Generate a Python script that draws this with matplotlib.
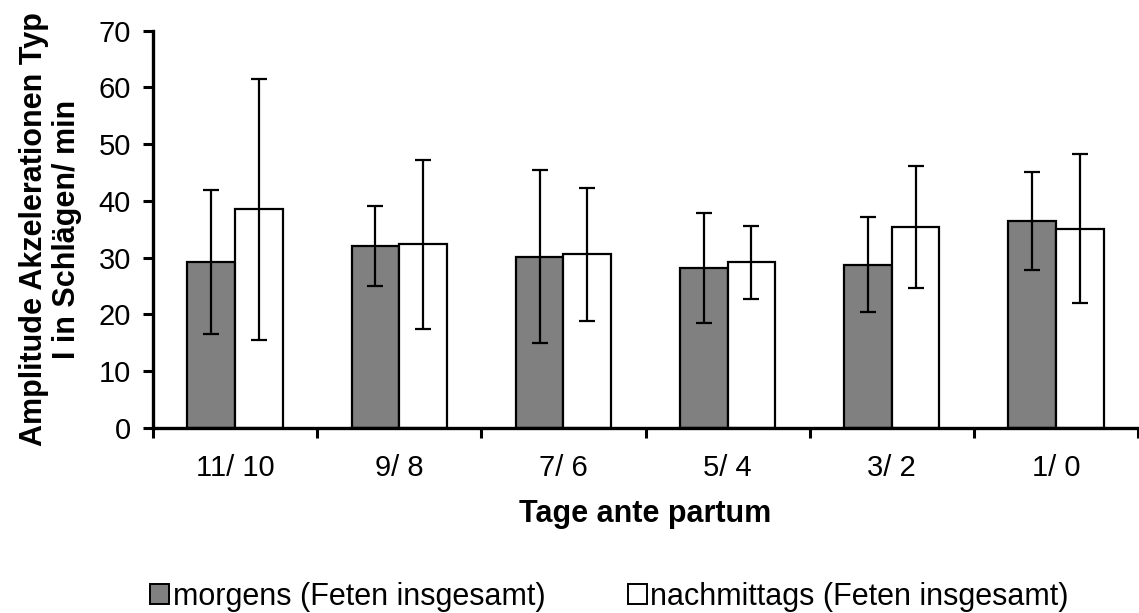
import matplotlib
matplotlib.use("Agg")
import matplotlib.pyplot as plt
import numpy as np
from matplotlib.patches import Patch

plt.rcParams["font.family"] = ["Liberation Sans", "DejaVu Sans"]

categories = ["11/ 10", "9/ 8", "7/ 6", "5/ 4", "3/ 2", "1/ 0"]
morgens_mean = [29.3, 32.1, 30.2, 28.2, 28.8, 36.5]
morgens_sd = [12.7, 7.1, 15.3, 9.7, 8.3, 8.6]
nachmittags_mean = [38.5, 32.4, 30.6, 29.2, 35.4, 35.1]
nachmittags_sd = [23.0, 14.9, 11.7, 6.4, 10.8, 13.1]
series_labels = ["morgens (Feten insgesamt)", "nachmittags (Feten insgesamt)"]

W, H = 1139, 613
fig = plt.figure(figsize=(W / 100, H / 100), dpi=100)
ax = fig.add_axes([153 / W, (H - 428) / H, (1138 - 153) / W, (428 - 30.7) / H])

x = np.arange(len(categories))
bw = 0.29
err_kw = dict(ecolor="black", elinewidth=1.6, capsize=5.5, capthick=1.6)
ax.bar(x - bw / 2, morgens_mean, bw, color="#808080", edgecolor="black",
       linewidth=1.6, yerr=morgens_sd, error_kw=err_kw, zorder=2)
ax.bar(x + bw / 2, nachmittags_mean, bw, color="white", edgecolor="black",
       linewidth=1.6, yerr=nachmittags_sd, error_kw=err_kw, zorder=2)

ax.set_xlim(-0.5, len(categories) - 0.5)
ax.set_ylim(0, 70)
ax.set_yticks(np.arange(0, 71, 10))

# category boundaries carry the tick marks, centres carry the labels
ax.set_xticks(np.arange(-0.5, len(categories), 1.0))
ax.set_xticklabels([])
ax.set_xticks(x, minor=True)
ax.set_xticklabels(categories, minor=True)
ax.tick_params(axis="x", which="major", direction="out", length=7, width=2.2)
ax.tick_params(axis="x", which="minor", length=0, pad=19, labelsize=21)
ax.tick_params(axis="y", direction="out", length=7, width=2.2, pad=9, labelsize=21)

for side in ("top", "right"):
    ax.spines[side].set_visible(False)
for side in ("left", "bottom"):
    ax.spines[side].set_linewidth(2.4)

ax.set_ylabel("Amplitude Akzelerationen Typ\nI in Schlägen/ min", fontsize=22,
              fontweight="bold", labelpad=12, linespacing=1.1)
ax.set_xlabel("Tage ante partum", fontsize=22, fontweight="bold", labelpad=12)

handles = [Patch(facecolor="#808080", edgecolor="black", linewidth=1.4),
           Patch(facecolor="white", edgecolor="black", linewidth=1.4)]
fig.legend(handles, series_labels, loc="center left", bbox_to_anchor=(150 / W, 16 / H),
           ncol=2, frameon=False, fontsize=22, handlelength=0.62, handleheight=0.62,
           handletextpad=0.12, columnspacing=2.7, borderpad=0.0, borderaxespad=0.0)

fig.savefig("out.png", dpi=100)
